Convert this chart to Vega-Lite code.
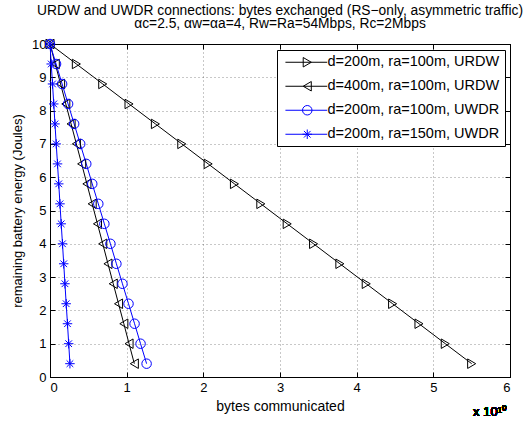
{
  "$schema": "https://vega.github.io/schema/vega-lite/v6.json",
  "width": 460,
  "height": 333,
  "autosize": {"type": "none"},
  "padding": {"left": 50, "top": 44, "right": 18, "bottom": 46},
  "title": {
    "text": ["URDW and UWDR connections: bytes exchanged (RS−only, asymmetric traffic)", "αc=2.5, αw=αa=4, Rw=Ra=54Mbps, Rc=2Mbps"],
    "font": "Liberation Sans",
    "fontSize": 13.8,
    "fontWeight": "normal",
    "color": "black",
    "lineHeight": 13.5,
    "offset": 6,
    "anchor": "middle"
  },
  "resolve": {"axis": {"x": "independent", "y": "independent"}, "scale": {"shape": "independent", "color": "independent"}},
  "config": {
    "view": {"stroke": "black", "strokeWidth": 1},
    "font": "Liberation Sans",
    "axis": {
      "domainColor": "black",
      "domainWidth": 1,
      "tickColor": "black",
      "tickSize": -5,
      "labelFont": "Liberation Sans",
      "labelFontSize": 13,
      "labelColor": "black",
      "labelPadding": 9,
      "titleFont": "Liberation Sans",
      "titleFontSize": 13,
      "titleFontWeight": "normal",
      "titleColor": "black",
      "gridColor": "black",
      "gridOpacity": 0.55,
      "gridDash": [1, 3],
      "gridWidth": 0.8
    },
    "legend": {"title": null, "orient": "none", "legendX": 227, "legendY": 6, "strokeColor": "black", "fillColor": "white", "padding": 5, "labelFont": "Liberation Sans", "labelFontSize": 14.5, "labelLimit": 400, "labelColor": "black", "symbolOffset": 18, "labelOffset": 13, "rowPadding": 9, "symbolStrokeWidth": 1, "symbolSize": 90}
  },
  "datasets": {
    "pts": [
      {"s": "d=200m, ra=100m, URDW", "x": 0, "y": 10},
      {"s": "d=200m, ra=100m, URDW", "x": 0.344, "y": 9.4},
      {"s": "d=200m, ra=100m, URDW", "x": 0.688, "y": 8.8},
      {"s": "d=200m, ra=100m, URDW", "x": 1.031, "y": 8.2},
      {"s": "d=200m, ra=100m, URDW", "x": 1.375, "y": 7.6},
      {"s": "d=200m, ra=100m, URDW", "x": 1.719, "y": 7.0},
      {"s": "d=200m, ra=100m, URDW", "x": 2.063, "y": 6.4},
      {"s": "d=200m, ra=100m, URDW", "x": 2.406, "y": 5.8},
      {"s": "d=200m, ra=100m, URDW", "x": 2.75, "y": 5.2},
      {"s": "d=200m, ra=100m, URDW", "x": 3.094, "y": 4.6},
      {"s": "d=200m, ra=100m, URDW", "x": 3.438, "y": 4.0},
      {"s": "d=200m, ra=100m, URDW", "x": 3.781, "y": 3.4},
      {"s": "d=200m, ra=100m, URDW", "x": 4.125, "y": 2.8},
      {"s": "d=200m, ra=100m, URDW", "x": 4.469, "y": 2.2},
      {"s": "d=200m, ra=100m, URDW", "x": 4.813, "y": 1.6},
      {"s": "d=200m, ra=100m, URDW", "x": 5.156, "y": 1.0},
      {"s": "d=200m, ra=100m, URDW", "x": 5.5, "y": 0.4},
      {"s": "d=400m, ra=100m, URDW", "x": 0, "y": 10},
      {"s": "d=400m, ra=100m, URDW", "x": 0.069, "y": 9.4},
      {"s": "d=400m, ra=100m, URDW", "x": 0.138, "y": 8.8},
      {"s": "d=400m, ra=100m, URDW", "x": 0.206, "y": 8.2},
      {"s": "d=400m, ra=100m, URDW", "x": 0.275, "y": 7.6},
      {"s": "d=400m, ra=100m, URDW", "x": 0.344, "y": 7.0},
      {"s": "d=400m, ra=100m, URDW", "x": 0.413, "y": 6.4},
      {"s": "d=400m, ra=100m, URDW", "x": 0.481, "y": 5.8},
      {"s": "d=400m, ra=100m, URDW", "x": 0.55, "y": 5.2},
      {"s": "d=400m, ra=100m, URDW", "x": 0.619, "y": 4.6},
      {"s": "d=400m, ra=100m, URDW", "x": 0.688, "y": 4.0},
      {"s": "d=400m, ra=100m, URDW", "x": 0.756, "y": 3.4},
      {"s": "d=400m, ra=100m, URDW", "x": 0.825, "y": 2.8},
      {"s": "d=400m, ra=100m, URDW", "x": 0.894, "y": 2.2},
      {"s": "d=400m, ra=100m, URDW", "x": 0.963, "y": 1.6},
      {"s": "d=400m, ra=100m, URDW", "x": 1.031, "y": 1.0},
      {"s": "d=400m, ra=100m, URDW", "x": 1.1, "y": 0.4},
      {"s": "d=200m, ra=100m, UWDR", "x": 0, "y": 10},
      {"s": "d=200m, ra=100m, UWDR", "x": 0.079, "y": 9.4},
      {"s": "d=200m, ra=100m, UWDR", "x": 0.158, "y": 8.8},
      {"s": "d=200m, ra=100m, UWDR", "x": 0.236, "y": 8.2},
      {"s": "d=200m, ra=100m, UWDR", "x": 0.315, "y": 7.6},
      {"s": "d=200m, ra=100m, UWDR", "x": 0.394, "y": 7.0},
      {"s": "d=200m, ra=100m, UWDR", "x": 0.473, "y": 6.4},
      {"s": "d=200m, ra=100m, UWDR", "x": 0.551, "y": 5.8},
      {"s": "d=200m, ra=100m, UWDR", "x": 0.63, "y": 5.2},
      {"s": "d=200m, ra=100m, UWDR", "x": 0.709, "y": 4.6},
      {"s": "d=200m, ra=100m, UWDR", "x": 0.788, "y": 4.0},
      {"s": "d=200m, ra=100m, UWDR", "x": 0.866, "y": 3.4},
      {"s": "d=200m, ra=100m, UWDR", "x": 0.945, "y": 2.8},
      {"s": "d=200m, ra=100m, UWDR", "x": 1.024, "y": 2.2},
      {"s": "d=200m, ra=100m, UWDR", "x": 1.103, "y": 1.6},
      {"s": "d=200m, ra=100m, UWDR", "x": 1.181, "y": 1.0},
      {"s": "d=200m, ra=100m, UWDR", "x": 1.26, "y": 0.4},
      {"s": "d=200m, ra=150m, UWDR", "x": 0, "y": 10},
      {"s": "d=200m, ra=150m, UWDR", "x": 0.016, "y": 9.4},
      {"s": "d=200m, ra=150m, UWDR", "x": 0.033, "y": 8.8},
      {"s": "d=200m, ra=150m, UWDR", "x": 0.049, "y": 8.2},
      {"s": "d=200m, ra=150m, UWDR", "x": 0.065, "y": 7.6},
      {"s": "d=200m, ra=150m, UWDR", "x": 0.081, "y": 7.0},
      {"s": "d=200m, ra=150m, UWDR", "x": 0.098, "y": 6.4},
      {"s": "d=200m, ra=150m, UWDR", "x": 0.114, "y": 5.8},
      {"s": "d=200m, ra=150m, UWDR", "x": 0.13, "y": 5.2},
      {"s": "d=200m, ra=150m, UWDR", "x": 0.146, "y": 4.6},
      {"s": "d=200m, ra=150m, UWDR", "x": 0.163, "y": 4.0},
      {"s": "d=200m, ra=150m, UWDR", "x": 0.179, "y": 3.4},
      {"s": "d=200m, ra=150m, UWDR", "x": 0.195, "y": 2.8},
      {"s": "d=200m, ra=150m, UWDR", "x": 0.211, "y": 2.2},
      {"s": "d=200m, ra=150m, UWDR", "x": 0.228, "y": 1.6},
      {"s": "d=200m, ra=150m, UWDR", "x": 0.244, "y": 1.0},
      {"s": "d=200m, ra=150m, UWDR", "x": 0.26, "y": 0.4}
    ]
  },
  "data": {"name": "pts"},
  "layer": [
    {
      "mark": {"type": "line", "strokeWidth": 1},
      "encoding": {
        "x": {"field": "x", "type": "quantitative", "scale": {"domain": [0, 6], "nice": false},
          "axis": {"orient": "bottom", "values": [0, 1, 2, 3, 4, 5, 6], "title": "bytes communicated", "titleFontSize": 14, "grid": true, "titlePadding": 5}},
        "y": {"field": "y", "type": "quantitative", "scale": {"domain": [0, 10], "nice": false},
          "axis": {"orient": "left", "values": [0, 1, 2, 3, 4, 5, 6, 7, 8, 9, 10], "title": "remaining battery energy (Joules)", "grid": true, "titlePadding": 7}},
        "color": {"field": "s", "type": "nominal",
          "scale": {"domain": ["d=200m, ra=100m, URDW", "d=400m, ra=100m, URDW", "d=200m, ra=100m, UWDR", "d=200m, ra=150m, UWDR"], "range": ["#000000", "#000000", "#0000ff", "#0000ff"]},
          "legend": null},
        "detail": {"field": "s"}
      }
    },
    {
      "mark": {"type": "point", "filled": false, "strokeWidth": 1, "size": 90, "opacity": 1},
      "encoding": {
        "x": {"field": "x", "type": "quantitative",
          "axis": {"orient": "top", "values": [0, 1, 2, 3, 4, 5, 6], "labels": false, "title": null, "grid": false}},
        "y": {"field": "y", "type": "quantitative",
          "axis": {"orient": "right", "values": [0, 1, 2, 3, 4, 5, 6, 7, 8, 9, 10], "labels": false, "title": null, "grid": false}},
        "color": {"field": "s", "type": "nominal",
          "scale": {"domain": ["d=200m, ra=100m, URDW", "d=400m, ra=100m, URDW", "d=200m, ra=100m, UWDR", "d=200m, ra=150m, UWDR"], "range": ["#000000", "#000000", "#0000ff", "#0000ff"]},
          "legend": null},
        "shape": {"field": "s", "type": "nominal",
          "scale": {"domain": ["d=200m, ra=100m, URDW", "d=400m, ra=100m, URDW", "d=200m, ra=100m, UWDR", "d=200m, ra=150m, UWDR"],
            "range": ["M-0.85,-1L0.85,0L-0.85,1Z", "M0.85,-1L-0.85,0L0.85,1Z", "circle", "M-1,0L1,0M0,-1L0,1M-0.7,-0.7L0.7,0.7M-0.7,0.7L0.7,-0.7"]},
          "legend": null}
      }
    },
    {
      "transform": [{"filter": "false"}],
      "mark": {"type": "point", "filled": false, "strokeWidth": 1, "size": 90, "opacity": 1},
      "encoding": {
        "x": {"field": "x", "type": "quantitative", "axis": null},
        "y": {"field": "y", "type": "quantitative", "axis": null},
        "color": {"field": "s", "type": "nominal",
          "scale": {"domain": ["d=200m, ra=100m, URDW", "d=400m, ra=100m, URDW", "d=200m, ra=100m, UWDR", "d=200m, ra=150m, UWDR"], "range": ["#000000", "#000000", "#0000ff", "#0000ff"]}},
        "shape": {"field": "s", "type": "nominal",
          "scale": {"domain": ["d=200m, ra=100m, URDW", "d=400m, ra=100m, URDW", "d=200m, ra=100m, UWDR", "d=200m, ra=150m, UWDR"],
            "range": ["M-4.6,0L4.2,0M-0.85,-1L0.85,0L-0.85,1Z", "M-4.6,0L4.2,0M0.85,-1L-0.85,0L0.85,1Z", "M-4.6,0L4.2,0M1,0A1,1,0,1,1,-1,0A1,1,0,1,1,1,0Z", "M-4.6,0L4.2,0M-1,0L1,0M0,-1L0,1M-0.7,-0.7L0.7,0.7M-0.7,0.7L0.7,-0.7"]}}
      }
    },
    {
      "mark": {"type": "text", "font": "Liberation Sans", "fontSize": 13, "color": "black", "dx": -20, "dy": 35, "align": "center", "baseline": "middle"},
      "encoding": {
        "x": {"datum": 6, "axis": null},
        "y": {"datum": 0, "axis": null},
        "text": {"value": "x 10¹⁰"}
      }
    }
  ]
}
